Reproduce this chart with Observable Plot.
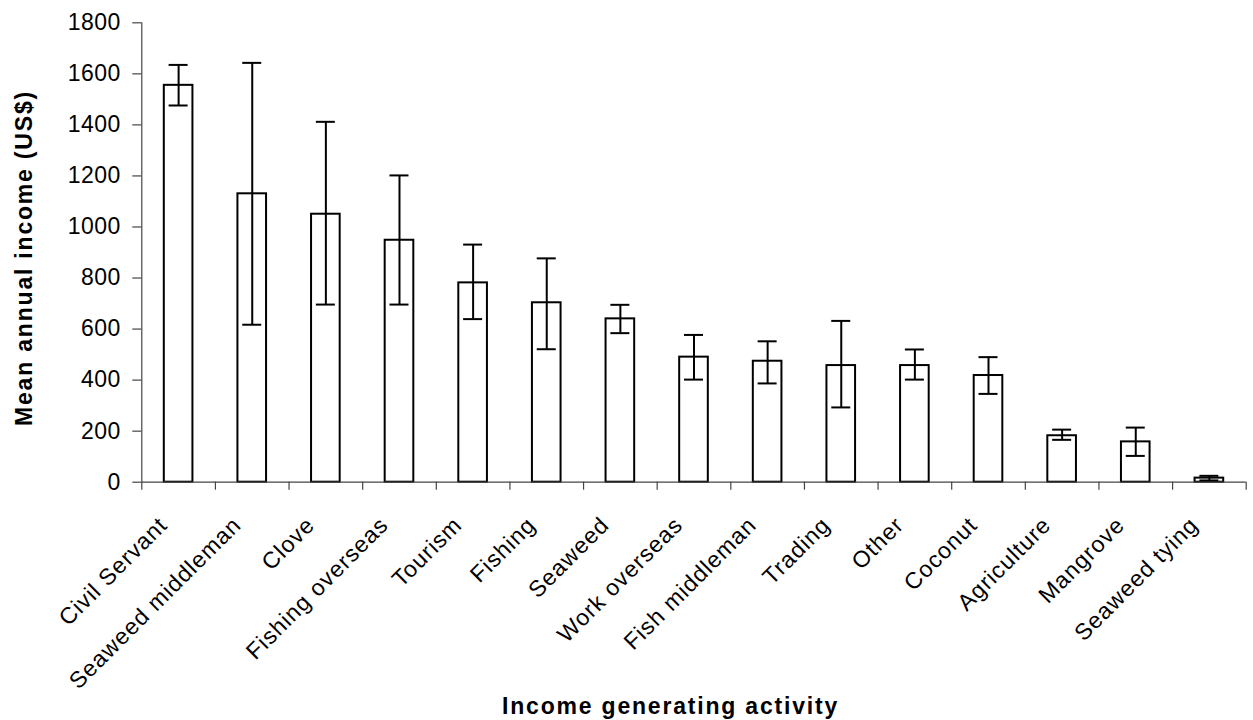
<!DOCTYPE html>
<html><head><meta charset="utf-8">
<script src="https://cdn.jsdelivr.net/npm/d3@7"></script>
<script src="https://cdn.jsdelivr.net/npm/@observablehq/plot@0.6"></script>
<style>
body{margin:0;background:#fff;}
g[aria-label="y-axis tick label"] text{letter-spacing:0.5px;}
</style>
</head><body><div id="chart"></div>
<script>
const categories = ["Civil Servant","Seaweed middleman","Clove","Fishing overseas","Tourism","Fishing","Seaweed","Work overseas","Fish middleman","Trading","Other","Coconut","Agriculture","Mangrove","Seaweed tying"];
const means = [1555,1130,1050,948,781,703,640,490,474,457,457,418,182,158,16];
const upper = [1635,1643,1412,1202,931,877,695,577,552,632,520,490,206,214,25];
const lower = [1476,617,696,696,639,521,584,402,387,293,402,346,166,103,7];
const yTicks = [0,200,400,600,800,1000,1200,1400,1600,1800];
const xTitle = "Income generating activity";
const yTitle = "Mean annual income (US$)";

const rows = categories.map((c,i)=>({cat:c, i, mid:i+0.5, mean:means[i], hi:upper[i], lo:lower[i]}));
const font = "'Liberation Sans', Arial, sans-serif";

const chart = Plot.plot({
  width:1253, height:720,
  marginLeft:141.3, marginRight:7.3, marginTop:22.3, marginBottom:238.3,
  style:{fontFamily:font, background:"#fff", color:"#000"},
  x:{type:"linear", domain:[0, categories.length], axis:null},
  y:{domain:[0,1800], axis:null},
  marks:[
    Plot.rectY(rows, {x1:"i", x2:d=>d.i+1, y:"mean", fill:"white", stroke:"black", strokeWidth:2, insetLeft:22.5, insetRight:22.5}),
    Plot.ruleX(rows, {x:"mid", y1:"lo", y2:"hi", stroke:"black", strokeWidth:2}),
    Plot.ruleY(rows, {y:"hi", x1:"mid", x2:"mid", insetLeft:-9.5, insetRight:-9.5, stroke:"black", strokeWidth:2}),
    Plot.ruleY(rows, {y:"lo", x1:"mid", x2:"mid", insetLeft:-9.5, insetRight:-9.5, stroke:"black", strokeWidth:2}),
    Plot.ruleY([0], {stroke:"#444", strokeWidth:1.2}),
    Plot.ruleX([0], {y1:0, y2:1800, stroke:"#444", strokeWidth:1.2}),
    Plot.axisX({ticks:d3.range(categories.length+1), tickFormat:()=>"", tickSize:8, stroke:"#444", strokeWidth:1.2, label:null}),
    Plot.axisY({ticks:yTicks, tickSize:9, tickPadding:12, fontSize:23, stroke:"#444", strokeWidth:1.2, label:null, tickFormat:d=>String(d)}),
    Plot.text(rows, {x:"mid", text:"cat", frameAnchor:"bottom", rotate:-45, textAnchor:"end", lineAnchor:"middle", dx:-15, dy:39, fontSize:23, fill:"black"}),
    Plot.text([xTitle], {text:d=>d, frameAnchor:"bottom", textAnchor:"middle", lineAnchor:"middle", dx:-23.5, dy:224.2, fontSize:23, fontWeight:"bold", fill:"black"}),
    Plot.text([yTitle], {text:d=>d, frameAnchor:"left", rotate:-90, textAnchor:"middle", lineAnchor:"middle", dx:-117, dy:5.5, fontSize:23, fontWeight:"bold", fill:"black"})
  ]
});
const sel = d3.select(chart);
sel.selectAll("text").filter(function(){ return categories.includes(this.textContent); }).style("letter-spacing","1px");
sel.selectAll("text").filter(function(){ return this.textContent === xTitle || this.textContent === yTitle; }).style("letter-spacing","1.8px");
document.getElementById("chart").appendChild(chart);
</script>
</body></html>
